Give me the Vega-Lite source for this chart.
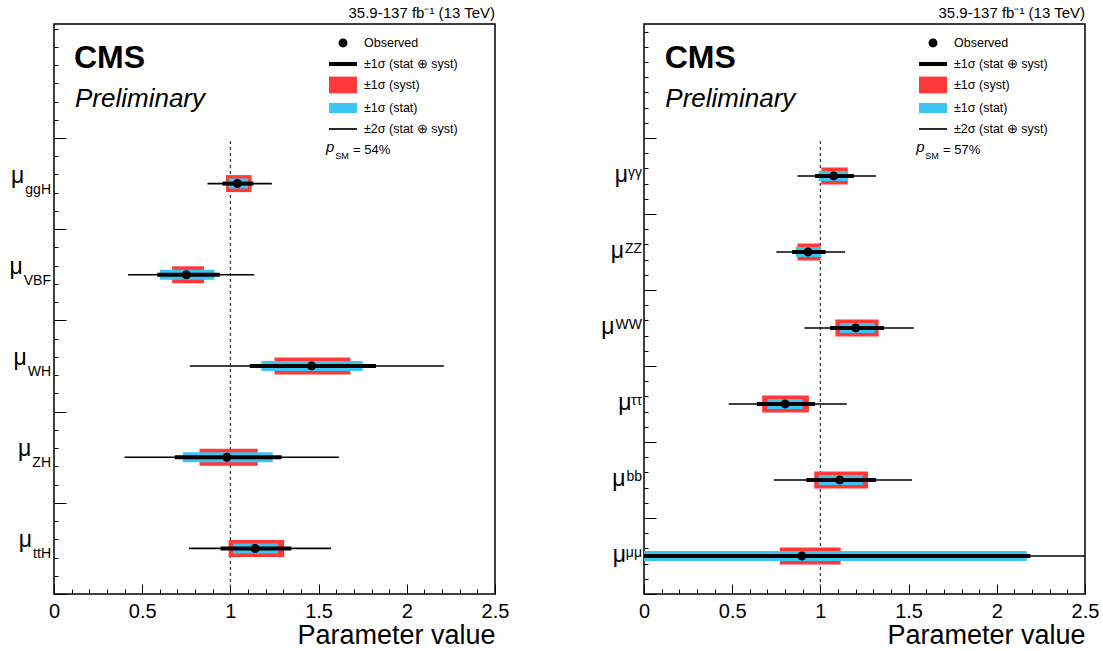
{
  "$schema": "https://vega.github.io/schema/vega-lite/v6.json",
  "background": "white",
  "padding": {"left": 8, "top": 5, "right": 5, "bottom": 5},
  "spacing": 149,
  "bounds": "flush",
  "config": {
    "font": "Liberation Sans",
    "view": {"stroke": "black", "strokeWidth": 1.5},
    "axis": {"tickColor": "black", "labelColor": "black", "titleColor": "black", "domain": false, "grid": false, "titleFontWeight": "normal", "tickWidth": 1}
  },
  "datasets": {
    "left": [
      {"param": "ggH", "val": 1.04, "lo2": 0.87, "hi2": 1.235, "lo1": 0.955, "hi1": 1.13, "syst_lo": 0.975, "syst_hi": 1.12, "stat_lo": 0.99, "stat_hi": 1.10},
      {"param": "VBF", "val": 0.75, "lo2": 0.42, "hi2": 1.135, "lo1": 0.585, "hi1": 0.94, "syst_lo": 0.67, "syst_hi": 0.85, "stat_lo": 0.60, "stat_hi": 0.91},
      {"param": "WH", "val": 1.46, "lo2": 0.77, "hi2": 2.21, "lo1": 1.11, "hi1": 1.825, "syst_lo": 1.25, "syst_hi": 1.68, "stat_lo": 1.175, "stat_hi": 1.75},
      {"param": "ZH", "val": 0.98, "lo2": 0.40, "hi2": 1.615, "lo1": 0.685, "hi1": 1.29, "syst_lo": 0.825, "syst_hi": 1.155, "stat_lo": 0.73, "stat_hi": 1.24},
      {"param": "ttH", "val": 1.14, "lo2": 0.765, "hi2": 1.57, "lo1": 0.945, "hi1": 1.345, "syst_lo": 0.99, "syst_hi": 1.305, "stat_lo": 1.015, "stat_hi": 1.27}
    ],
    "right": [
      {"param": "γγ", "val": 1.075, "lo2": 0.87, "hi2": 1.315, "lo1": 0.97, "hi1": 1.19, "syst_lo": 1.005, "syst_hi": 1.155, "stat_lo": 0.99, "stat_hi": 1.155},
      {"param": "ZZ", "val": 0.93, "lo2": 0.75, "hi2": 1.14, "lo1": 0.84, "hi1": 1.03, "syst_lo": 0.87, "syst_hi": 1.0, "stat_lo": 0.86, "stat_hi": 1.005},
      {"param": "WW", "val": 1.20, "lo2": 0.91, "hi2": 1.53, "lo1": 1.055, "hi1": 1.36, "syst_lo": 1.085, "syst_hi": 1.33, "stat_lo": 1.11, "stat_hi": 1.31},
      {"param": "ττ", "val": 0.80, "lo2": 0.48, "hi2": 1.15, "lo1": 0.64, "hi1": 0.97, "syst_lo": 0.67, "syst_hi": 0.935, "stat_lo": 0.70, "stat_hi": 0.90},
      {"param": "bb", "val": 1.11, "lo2": 0.735, "hi2": 1.52, "lo1": 0.92, "hi1": 1.315, "syst_lo": 0.965, "syst_hi": 1.27, "stat_lo": 0.99, "stat_hi": 1.24},
      {"param": "μμ", "val": 0.895, "lo2": -0.9, "hi2": 3.0, "lo1": -0.4, "hi1": 2.19, "syst_lo": 0.77, "syst_hi": 1.115, "stat_lo": -0.38, "stat_hi": 2.17}
    ]
  },
  "resolve": {"scale": {"color": "independent", "shape": "independent"}},
  "hconcat": [
    {
      "width": 441,
      "height": 570,
      "title": {"text": "35.9-137 fb⁻¹ (13 TeV)", "anchor": "end", "frame": "group", "fontSize": 15, "fontWeight": "normal", "baseline": "alphabetic", "offset": -9, "color": "black"},
      "resolve": {"scale": {"y": "independent"}, "axis": {"x": "independent", "y": "independent"}},
      "layer": [
        {
          "data": {"values": [{"sm": 1}]},
          "resolve": {"axis": {"x": "independent", "y": "independent"}},
          "layer": [
            {
              "mark": {"type": "rule", "strokeDash": [3, 3], "color": "#333", "strokeWidth": 1},
              "encoding": {
                "x": {"field": "sm", "type": "quantitative", "scale": {"domain": [0, 2.5], "nice": false, "zero": false},
                  "axis": {"orient": "bottom", "values": [0, 0.5, 1, 1.5, 2, 2.5], "format": "~g", "tickSize": -10, "labelPadding": 17, "labelFontSize": 20, "labelFlush": false, "labelOverlap": false, "title": "Parameter value", "titleFontSize": 27, "titleAnchor": "end", "titlePadding": 1}},
                "y": {"datum": 0, "type": "quantitative", "scale": {"domain": [0, 6.25], "nice": false, "zero": false},
                  "axis": {"orient": "left", "values": [0, 1, 2, 3, 4, 5], "tickSize": -12, "labels": false, "title": null}},
                "y2": {"datum": 5}
              }
            },
            {
              "mark": {"type": "rule", "strokeDash": [3, 3], "color": "#333", "strokeWidth": 1},
              "encoding": {
                "x": {"field": "sm", "type": "quantitative", "axis": null},
                "y": {"datum": 0, "type": "quantitative",
                  "axis": {"orient": "left", "values": [0.2, 0.4, 0.6, 0.8, 1.2, 1.4, 1.6, 1.8, 2.2, 2.4, 2.6, 2.8, 3.2, 3.4, 3.6, 3.8, 4.2, 4.4, 4.6, 4.8, 5.2, 5.4, 5.6, 5.8, 6, 6.2], "tickSize": -4, "labels": false, "title": null}},
                "y2": {"datum": 5}
              }
            },
            {
              "data": {"values": [{"t": "CMS"}]},
              "mark": {"type": "text", "align": "left", "baseline": "alphabetic", "fontSize": 32, "fontWeight": "bold", "color": "black"},
              "encoding": {"x": {"datum": 0.113, "type": "quantitative", "axis": null}, "y": {"datum": 5.768, "type": "quantitative", "axis": null}, "text": {"field": "t"}}
            },
            {
              "data": {"values": [{"t": "Preliminary"}]},
              "mark": {"type": "text", "align": "left", "baseline": "alphabetic", "fontSize": 26, "fontStyle": "italic", "color": "black"},
              "encoding": {"x": {"datum": 0.119, "type": "quantitative", "axis": null}, "y": {"datum": 5.34, "type": "quantitative", "axis": null}, "text": {"field": "t"}}
            },
            {
              "data": {"values": [{"t": "p"}]},
              "mark": {"type": "text", "align": "left", "baseline": "alphabetic", "fontSize": 15, "fontStyle": "italic", "color": "black"},
              "encoding": {"x": {"datum": 1.542, "type": "quantitative", "axis": null}, "y": {"datum": 4.846, "type": "quantitative", "axis": null}, "text": {"field": "t"}}
            },
            {
              "data": {"values": [{"t": "SM"}]},
              "mark": {"type": "text", "align": "left", "baseline": "alphabetic", "fontSize": 9, "color": "black"},
              "encoding": {"x": {"datum": 1.595, "type": "quantitative", "axis": null}, "y": {"datum": 4.77, "type": "quantitative", "axis": null}, "text": {"field": "t"}}
            },
            {
              "data": {"values": [{"t": "= 54%"}]},
              "mark": {"type": "text", "align": "left", "baseline": "alphabetic", "fontSize": 13, "color": "black"},
              "encoding": {"x": {"datum": 1.695, "type": "quantitative", "axis": null}, "y": {"datum": 4.83, "type": "quantitative", "axis": null}, "text": {"field": "t"}}
            }
          ]
        },
        {
          "data": {"name": "left"},
          "resolve": {"axis": {"x": "independent"}},
          "layer": [
            {
              "mark": {"type": "rule", "color": "black", "strokeWidth": 1.6, "clip": true},
              "encoding": {
                "x": {"field": "lo2", "type": "quantitative", "scale": {"domain": [0, 2.5], "nice": false, "zero": false},
                  "axis": {"orient": "bottom", "values": [0.1, 0.2, 0.3, 0.4, 0.6, 0.7, 0.8, 0.9, 1.1, 1.2, 1.3, 1.4, 1.6, 1.7, 1.8, 1.9, 2.1, 2.2, 2.3, 2.4], "tickSize": -5, "labels": false, "title": null}},
                "x2": {"field": "hi2"},
                "y": {"field": "param", "type": "nominal", "sort": null, "axis": null, "scale": {"range": [114, 570], "paddingInner": 0, "paddingOuter": 0}}
              }
            },
            {
              "mark": {"type": "bar", "color": "#ff3838", "height": 17, "clip": true},
              "encoding": {
                "x": {"field": "syst_lo", "type": "quantitative", "axis": null},
                "x2": {"field": "syst_hi"},
                "y": {"field": "param", "type": "nominal", "sort": null, "axis": null}
              }
            },
            {
              "mark": {"type": "bar", "color": "#3bc5f3", "height": 10, "clip": true},
              "encoding": {
                "x": {"field": "stat_lo", "type": "quantitative", "axis": null},
                "x2": {"field": "stat_hi"},
                "y": {"field": "param", "type": "nominal", "sort": null, "axis": null}
              }
            },
            {
              "mark": {"type": "rule", "color": "black", "strokeWidth": 4, "clip": true},
              "encoding": {
                "x": {"field": "lo1", "type": "quantitative", "axis": null},
                "x2": {"field": "hi1"},
                "y": {"field": "param", "type": "nominal", "sort": null, "axis": null}
              }
            },
            {
              "mark": {"type": "point", "filled": true, "size": 784, "opacity": 1, "strokeWidth": 0},
              "encoding": {
                "x": {"field": "val", "type": "quantitative", "axis": null},
                "y": {"field": "param", "type": "nominal", "sort": null, "axis": null},
                "color": {"datum": "Observed",
                  "scale": {"domain": ["Observed", "±1σ (stat ⊕ syst)", "±1σ (syst)", "±1σ (stat)", "±2σ (stat ⊕ syst)"], "range": ["black", "black", "#ff3838", "#3bc5f3", "black"]},
                  "legend": {"orient": "none", "legendX": 275, "legendY": 5, "title": null, "symbolSize": 784, "symbolStrokeWidth": 0, "symbolOpacity": 1, "labelFontSize": 12.5, "labelColor": "black", "labelOffset": 7, "rowPadding": -1, "padding": 0, "labelLimit": 300}},
                "shape": {"datum": "Observed",
                  "scale": {"domain": ["Observed", "±1σ (stat ⊕ syst)", "±1σ (syst)", "±1σ (stat)", "±2σ (stat ⊕ syst)"], "range": ["M-0.32,0A0.32,0.32 0 1,0 0.32,0A0.32,0.32 0 1,0 -0.32,0Z", "M-1,-0.143H1V0.143H-1Z", "M-1,-0.6H1V0.6H-1Z", "M-1,-0.36H1V0.36H-1Z", "M-1,-0.06H1V0.06H-1Z"]},
                  "legend": {"orient": "none", "legendX": 275, "legendY": 5, "title": null, "symbolSize": 784, "symbolStrokeWidth": 0, "symbolOpacity": 1, "labelFontSize": 12.5, "labelColor": "black", "labelOffset": 7, "rowPadding": -1, "padding": 0, "labelLimit": 300}}
              }
            },
            {
              "mark": {"type": "text", "text": "μ", "align": "right", "baseline": "alphabetic", "fontSize": 23, "color": "black", "dy": -1,
                "dx": {"expr": "-4 - (datum.param === 'ggH' ? 25.7 : datum.param === 'VBF' ? 27.2 : datum.param === 'WH' ? 23.3 : datum.param === 'ZH' ? 18.7 : 17.9)"}},
              "encoding": {
                "x": {"datum": 0, "type": "quantitative", "axis": null},
                "y": {"field": "param", "type": "nominal", "sort": null, "axis": null}
              }
            },
            {
              "mark": {"type": "text", "align": "right", "baseline": "alphabetic", "fontSize": 14, "color": "black", "dx": -3, "dy": 10},
              "encoding": {
                "x": {"datum": 0, "type": "quantitative", "axis": null},
                "y": {"field": "param", "type": "nominal", "sort": null, "axis": null},
                "text": {"field": "param"}
              }
            }
          ]
        }
      ]
    },
    {
      "width": 441,
      "height": 570,
      "title": {"text": "35.9-137 fb⁻¹ (13 TeV)", "anchor": "end", "frame": "group", "fontSize": 15, "fontWeight": "normal", "baseline": "alphabetic", "offset": -9, "color": "black"},
      "resolve": {"scale": {"y": "independent"}, "axis": {"x": "independent", "y": "independent"}},
      "layer": [
        {
          "data": {"values": [{"sm": 1}]},
          "resolve": {"axis": {"x": "independent", "y": "independent"}},
          "layer": [
            {
              "mark": {"type": "rule", "strokeDash": [3, 3], "color": "#333", "strokeWidth": 1},
              "encoding": {
                "x": {"field": "sm", "type": "quantitative", "scale": {"domain": [0, 2.5], "nice": false, "zero": false},
                  "axis": {"orient": "bottom", "values": [0, 0.5, 1, 1.5, 2, 2.5], "format": "~g", "tickSize": -10, "labelPadding": 17, "labelFontSize": 20, "labelFlush": false, "labelOverlap": false, "title": "Parameter value", "titleFontSize": 27, "titleAnchor": "end", "titlePadding": 1}},
                "y": {"datum": 0, "type": "quantitative", "scale": {"domain": [0, 7.5], "nice": false, "zero": false},
                  "axis": {"orient": "left", "values": [0, 1, 2, 3, 4, 5, 6], "tickSize": -12, "labels": false, "title": null}},
                "y2": {"datum": 6}
              }
            },
            {
              "mark": {"type": "rule", "strokeDash": [3, 3], "color": "#333", "strokeWidth": 1},
              "encoding": {
                "x": {"field": "sm", "type": "quantitative", "axis": null},
                "y": {"datum": 0, "type": "quantitative",
                  "axis": {"orient": "left", "values": [0.2, 0.4, 0.6, 0.8, 1.2, 1.4, 1.6, 1.8, 2.2, 2.4, 2.6, 2.8, 3.2, 3.4, 3.6, 3.8, 4.2, 4.4, 4.6, 4.8, 5.2, 5.4, 5.6, 5.8, 6.2, 6.4, 6.6, 6.8, 7, 7.2, 7.4], "tickSize": -4, "labels": false, "title": null}},
                "y2": {"datum": 6}
              }
            },
            {
              "data": {"values": [{"t": "CMS"}]},
              "mark": {"type": "text", "align": "left", "baseline": "alphabetic", "fontSize": 32, "fontWeight": "bold", "color": "black"},
              "encoding": {"x": {"datum": 0.117, "type": "quantitative", "axis": null}, "y": {"datum": 6.921, "type": "quantitative", "axis": null}, "text": {"field": "t"}}
            },
            {
              "data": {"values": [{"t": "Preliminary"}]},
              "mark": {"type": "text", "align": "left", "baseline": "alphabetic", "fontSize": 26, "fontStyle": "italic", "color": "black"},
              "encoding": {"x": {"datum": 0.121, "type": "quantitative", "axis": null}, "y": {"datum": 6.408, "type": "quantitative", "axis": null}, "text": {"field": "t"}}
            },
            {
              "data": {"values": [{"t": "p"}]},
              "mark": {"type": "text", "align": "left", "baseline": "alphabetic", "fontSize": 15, "fontStyle": "italic", "color": "black"},
              "encoding": {"x": {"datum": 1.543, "type": "quantitative", "axis": null}, "y": {"datum": 5.816, "type": "quantitative", "axis": null}, "text": {"field": "t"}}
            },
            {
              "data": {"values": [{"t": "SM"}]},
              "mark": {"type": "text", "align": "left", "baseline": "alphabetic", "fontSize": 9, "color": "black"},
              "encoding": {"x": {"datum": 1.595, "type": "quantitative", "axis": null}, "y": {"datum": 5.724, "type": "quantitative", "axis": null}, "text": {"field": "t"}}
            },
            {
              "data": {"values": [{"t": "= 57%"}]},
              "mark": {"type": "text", "align": "left", "baseline": "alphabetic", "fontSize": 13, "color": "black"},
              "encoding": {"x": {"datum": 1.695, "type": "quantitative", "axis": null}, "y": {"datum": 5.796, "type": "quantitative", "axis": null}, "text": {"field": "t"}}
            }
          ]
        },
        {
          "data": {"name": "right"},
          "resolve": {"axis": {"x": "independent"}},
          "layer": [
            {
              "mark": {"type": "rule", "color": "black", "strokeWidth": 1.6, "clip": true},
              "encoding": {
                "x": {"field": "lo2", "type": "quantitative", "scale": {"domain": [0, 2.5], "nice": false, "zero": false},
                  "axis": {"orient": "bottom", "values": [0.1, 0.2, 0.3, 0.4, 0.6, 0.7, 0.8, 0.9, 1.1, 1.2, 1.3, 1.4, 1.6, 1.7, 1.8, 1.9, 2.1, 2.2, 2.3, 2.4], "tickSize": -5, "labels": false, "title": null}},
                "x2": {"field": "hi2"},
                "y": {"field": "param", "type": "nominal", "sort": null, "axis": null, "scale": {"range": [114, 570], "paddingInner": 0, "paddingOuter": 0}}
              }
            },
            {
              "mark": {"type": "bar", "color": "#ff3838", "height": 17, "clip": true},
              "encoding": {
                "x": {"field": "syst_lo", "type": "quantitative", "axis": null},
                "x2": {"field": "syst_hi"},
                "y": {"field": "param", "type": "nominal", "sort": null, "axis": null}
              }
            },
            {
              "mark": {"type": "bar", "color": "#3bc5f3", "height": 10, "clip": true},
              "encoding": {
                "x": {"field": "stat_lo", "type": "quantitative", "axis": null},
                "x2": {"field": "stat_hi"},
                "y": {"field": "param", "type": "nominal", "sort": null, "axis": null}
              }
            },
            {
              "mark": {"type": "rule", "color": "black", "strokeWidth": 4, "clip": true},
              "encoding": {
                "x": {"field": "lo1", "type": "quantitative", "axis": null},
                "x2": {"field": "hi1"},
                "y": {"field": "param", "type": "nominal", "sort": null, "axis": null}
              }
            },
            {
              "mark": {"type": "point", "filled": true, "size": 784, "opacity": 1, "strokeWidth": 0},
              "encoding": {
                "x": {"field": "val", "type": "quantitative", "axis": null},
                "y": {"field": "param", "type": "nominal", "sort": null, "axis": null},
                "color": {"datum": "Observed",
                  "scale": {"domain": ["Observed", "±1σ (stat ⊕ syst)", "±1σ (syst)", "±1σ (stat)", "±2σ (stat ⊕ syst)"], "range": ["black", "black", "#ff3838", "#3bc5f3", "black"]},
                  "legend": {"orient": "none", "legendX": 275, "legendY": 5, "title": null, "symbolSize": 784, "symbolStrokeWidth": 0, "symbolOpacity": 1, "labelFontSize": 12.5, "labelColor": "black", "labelOffset": 7, "rowPadding": -1, "padding": 0, "labelLimit": 300}},
                "shape": {"datum": "Observed",
                  "scale": {"domain": ["Observed", "±1σ (stat ⊕ syst)", "±1σ (syst)", "±1σ (stat)", "±2σ (stat ⊕ syst)"], "range": ["M-0.32,0A0.32,0.32 0 1,0 0.32,0A0.32,0.32 0 1,0 -0.32,0Z", "M-1,-0.143H1V0.143H-1Z", "M-1,-0.6H1V0.6H-1Z", "M-1,-0.36H1V0.36H-1Z", "M-1,-0.06H1V0.06H-1Z"]},
                  "legend": {"orient": "none", "legendX": 275, "legendY": 5, "title": null, "symbolSize": 784, "symbolStrokeWidth": 0, "symbolOpacity": 1, "labelFontSize": 12.5, "labelColor": "black", "labelOffset": 7, "rowPadding": -1, "padding": 0, "labelLimit": 300}}
              }
            },
            {
              "mark": {"type": "text", "text": "μ", "align": "right", "baseline": "alphabetic", "fontSize": 23, "color": "black", "dy": 5.5,
                "dx": {"expr": "-3 - (datum.param === 'γγ' ? 13 : datum.param === 'ZZ' ? 17.1 : datum.param === 'WW' ? 26.4 : datum.param === 'ττ' ? 9.5 : datum.param === 'bb' ? 15.6 : 15)"}},
              "encoding": {
                "x": {"datum": 0, "type": "quantitative", "axis": null},
                "y": {"field": "param", "type": "nominal", "sort": null, "axis": null}
              }
            },
            {
              "mark": {"type": "text", "align": "right", "baseline": "alphabetic", "fontSize": 14, "color": "black", "dx": -2, "dy": 0.5},
              "encoding": {
                "x": {"datum": 0, "type": "quantitative", "axis": null},
                "y": {"field": "param", "type": "nominal", "sort": null, "axis": null},
                "text": {"field": "param"}
              }
            }
          ]
        }
      ]
    }
  ]
}
